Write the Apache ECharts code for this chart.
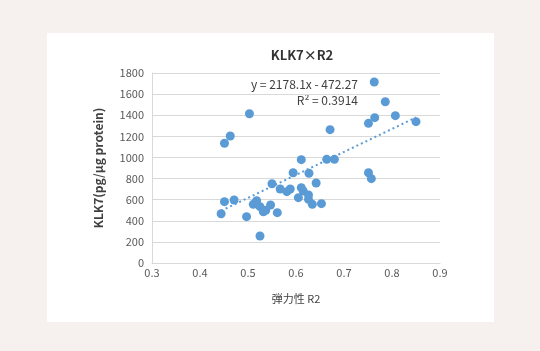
<!DOCTYPE html>
<html>
<head>
<meta charset="utf-8">
<script src="https://cdn.jsdelivr.net/npm/echarts@6/dist/echarts.min.js"></script>
<style>
  html, body { margin: 0; padding: 0; background: #f6f0ef; }
  #card { position: absolute; left: 47px; top: 33px; width: 447px; height: 289px; background: #fff; }
  #chart { position: absolute; left: 0; top: 0; width: 540px; height: 351px; }
</style>
</head>
<body>
<div id="card"></div>
<div id="chart"></div>
<script>
// elasticity R2 (x) vs KLK7 pg/ug protein (y)
var elasticity = [
  0.444, 0.451, 0.471, 0.497, 0.525, 0.511, 0.518, 0.525, 0.532, 0.537,
  0.547, 0.550, 0.561, 0.567, 0.581, 0.588, 0.594, 0.605, 0.611, 0.615,
  0.626, 0.626, 0.634, 0.653, 0.627, 0.642, 0.751, 0.757, 0.763, 0.786,
  0.764, 0.751, 0.807, 0.850, 0.671, 0.611, 0.664, 0.680, 0.503, 0.463,
  0.451
];
var klk7 = [
  467, 581, 597, 439, 256, 556, 590, 534, 486, 500,
  549, 751, 477, 701, 676, 701, 855, 619, 714, 682,
  644, 603, 556, 562, 850, 758, 855, 799, 1715, 1528,
  1377, 1323, 1396, 1339, 1263, 979, 982, 982, 1414, 1203,
  1134
];
var slope = 2178.1;
var intercept = -472.27;
var rSquared = 0.3914;

var font = '"Noto Sans CJK JP", "Noto Sans", sans-serif';
var points = elasticity.map(function (x, i) { return [x, klk7[i]]; });

var xMin = Math.min.apply(null, elasticity);
var xMax = Math.max.apply(null, elasticity);
var trend = [[xMin, slope * xMin + intercept], [xMax, slope * xMax + intercept]];

var chart = echarts.init(document.getElementById('chart'));
chart.setOption({
  animation: false,
  textStyle: { fontFamily: font },
  title: {
    text: 'KLK7×R2',
    left: 297, top: 44, textAlign: 'center',
    textStyle: { fontSize: 13, fontWeight: 'bold', color: '#333', fontFamily: font }
  },
  grid: { left: 152, right: 100, top: 73, bottom: 88 },
  xAxis: {
    type: 'value', min: 0.3, max: 0.9, interval: 0.1,
    name: '弾力性 R2', nameLocation: 'middle', nameGap: 30,
    nameTextStyle: { fontSize: 11, color: '#404040', fontFamily: font },
    axisLine: { show: true, lineStyle: { color: '#d9d9d9' } },
    axisTick: { show: false },
    splitLine: { show: false },
    axisLabel: { fontSize: 11, color: '#595959', margin: 4,
      formatter: function (v) { return v.toFixed(1); } }
  },
  yAxis: {
    type: 'value', min: 0, max: 1800, interval: 200,
    name: 'KLK7(pg/μg protein)', nameLocation: 'middle', nameGap: 48,
    nameTextStyle: { fontSize: 12, fontWeight: 'bold', color: '#404040', fontFamily: font },
    axisLine: { show: true, lineStyle: { color: '#d9d9d9' } },
    axisTick: { show: false },
    splitLine: { lineStyle: { color: '#d9d9d9' } },
    axisLabel: { fontSize: 11, color: '#595959', margin: 8,
      formatter: function (v) { return String(v); } }
  },
  graphic: [{
    type: 'text', right: 182, top: 78,
    style: { text: 'y = 2178.1x - 472.27', font: '12px ' + font, fill: '#404040' }
  }, {
    type: 'text', right: 182, top: 94,
    style: { text: 'R² = ' + rSquared, font: '12px ' + font, fill: '#404040' }
  }],
  series: [{
    type: 'scatter',
    data: points,
    symbolSize: 9,
    itemStyle: { color: '#5b9bd5', opacity: 1 },
    z: 3
  }, {
    type: 'line',
    data: trend,
    symbol: 'none',
    lineStyle: { color: '#5b9bd5', width: 2, type: [2, 3] },
    z: 2
  }]
});
</script>
</body>
</html>
